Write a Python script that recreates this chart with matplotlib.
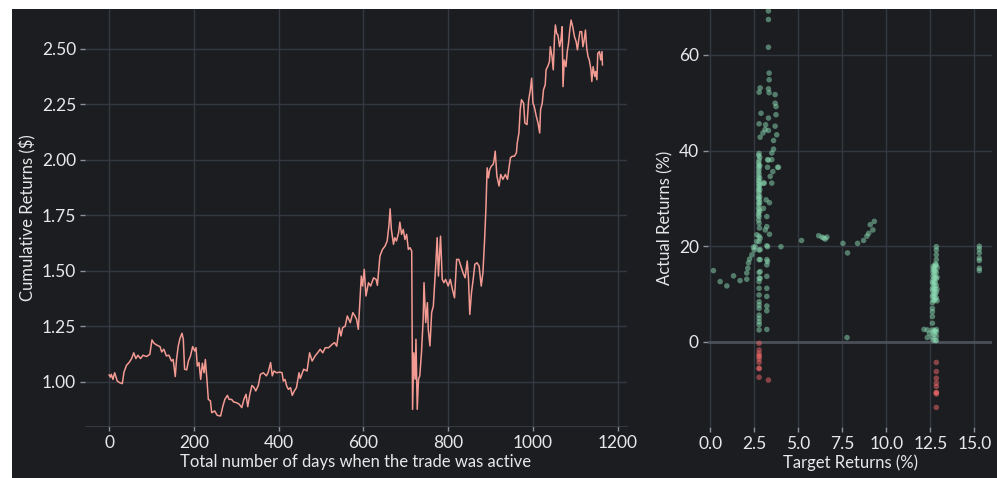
import matplotlib.pyplot as plt
from matplotlib.patches import Rectangle

# cumulative returns (day, value)
days = [0, 3, 5, 9, 13, 19, 25, 31, 35, 41, 47, 53, 58, 63, 68, 74, 80, 88, 96, 101,
        106, 113, 120, 124, 129, 135, 141, 147, 151, 156, 159, 163, 167, 172, 175, 178, 183, 187, 192, 197,
        202, 205, 208, 212, 216, 220, 224, 227, 231, 234, 239, 242, 249, 255, 263, 268, 273, 279, 283, 289,
        294, 301, 307, 313, 318, 323, 327, 332, 337, 342, 346, 352, 357, 364, 371, 375, 381, 385, 389, 395,
        403, 408, 411, 415, 419, 423, 428, 432, 437, 442, 448, 451, 459, 467, 473, 479, 486, 492, 498, 504,
        510, 518, 526, 532, 537, 543, 547, 551, 557, 562, 569, 575, 580, 584, 588, 591, 595, 598, 602, 606,
        612, 617, 624, 630, 633, 639, 645, 651, 656, 660, 663, 666, 671, 674, 678, 683, 686, 690, 694, 698,
        702, 706, 710, 714, 716, 719, 722, 724, 727, 730, 733, 737, 741, 743, 747, 751, 753, 757, 761, 765,
        768, 771, 774, 777, 782, 786, 790, 794, 800, 805, 810, 815, 820, 825, 831, 835, 840, 845, 848, 851,
        855, 859, 863, 868, 873, 878, 882, 886, 889, 892, 895, 898, 902, 906, 908, 911, 915, 920, 924, 929,
        935, 940, 943, 947, 951, 956, 961, 963, 967, 970, 973, 978, 981, 986, 990, 994, 997, 1000, 1003, 1008,
        1012, 1016, 1018, 1022, 1025, 1029, 1031, 1035, 1039, 1041, 1045, 1048, 1051, 1053, 1056, 1059, 1063, 1066, 1069, 1071,
        1074, 1078, 1081, 1084, 1087, 1090, 1094, 1098, 1102, 1105, 1108, 1111, 1115, 1118, 1121, 1124, 1127, 1130, 1133, 1137,
        1139, 1142, 1146, 1148, 1151, 1153, 1157, 1160, 1163, 1164]
cum_returns = [1.03, 1.02, 1.033, 1.01, 1.04, 1.003, 0.995, 0.991, 1.043, 1.074, 1.086, 1.104, 1.13, 1.104, 1.119, 1.104, 1.119, 1.113, 1.123, 1.188,
               1.173, 1.164, 1.158, 1.134, 1.146, 1.116, 1.119, 1.093, 1.10, 1.023, 1.10, 1.16, 1.194, 1.218, 1.19, 1.056, 1.053, 1.093, 1.116, 1.158,
               1.138, 1.153, 1.07, 1.086, 1.01, 1.083, 1.04, 1.10, 1.003, 0.92, 0.913, 0.86, 0.868, 0.848, 0.845, 0.887, 0.92, 0.938, 0.92, 0.92,
               0.908, 0.905, 0.898, 0.883, 0.92, 0.943, 0.887, 0.943, 0.983, 0.973, 0.958, 0.983, 1.033, 1.04, 1.026, 1.04, 1.086, 1.026, 1.048, 1.04,
               1.043, 1.04, 1.003, 1.01, 0.98, 0.965, 0.973, 0.938, 0.958, 0.973, 1.04, 1.014, 1.056, 1.048, 1.13, 1.093, 1.116, 1.13, 1.146, 1.13,
               1.153, 1.153, 1.168, 1.176, 1.16, 1.243, 1.206, 1.243, 1.25, 1.296, 1.266, 1.311, 1.296, 1.28, 1.236, 1.341, 1.476, 1.431, 1.506, 1.386,
               1.446, 1.431, 1.468, 1.461, 1.434, 1.566, 1.596, 1.611, 1.634, 1.70, 1.779, 1.686, 1.619, 1.649, 1.634, 1.671, 1.719, 1.664, 1.686, 1.641,
               1.664, 1.596, 1.604, 1.589, 0.875, 1.13, 1.011, 1.191, 0.875, 1.011, 1.026, 1.13, 1.281, 1.446, 1.266, 1.356, 1.236, 1.161, 1.311, 1.341,
               1.438, 1.536, 1.649, 1.476, 1.656, 1.461, 1.446, 1.461, 1.431, 1.461, 1.416, 1.378, 1.551, 1.551, 1.514, 1.491, 1.468, 1.544, 1.461, 1.303,
               1.401, 1.461, 1.529, 1.536, 1.521, 1.431, 1.491, 1.641, 1.777, 1.964, 1.919, 1.957, 1.972, 1.979, 1.994, 2.039, 1.927, 1.882, 1.934, 1.912,
               1.934, 1.912, 1.957, 2.009, 2.016, 2.016, 2.031, 2.076, 2.121, 2.226, 2.271, 2.256, 2.166, 2.159, 2.271, 2.316, 2.368, 2.256, 2.241, 2.196,
               2.166, 2.121, 2.226, 2.256, 2.316, 2.338, 2.406, 2.421, 2.443, 2.51, 2.466, 2.406, 2.555, 2.608, 2.57, 2.563, 2.51, 2.54, 2.60, 2.33,
               2.45, 2.42, 2.488, 2.525, 2.585, 2.63, 2.60, 2.555, 2.533, 2.496, 2.54, 2.578, 2.578, 2.51, 2.54, 2.585, 2.503, 2.466, 2.45, 2.406,
               2.353, 2.42, 2.376, 2.398, 2.361, 2.48, 2.488, 2.45, 2.488, 2.428]

# target vs actual returns (%) per trade
target_ret = [0.19, 0.57, 0.95, 1.33, 1.7, 2.08, 2.08, 2.14, 2.18, 2.24, 2.37, 2.46, 2.5, 2.56, 2.65, 2.65,
              2.78, 2.78, 2.78, 2.78, 2.78, 2.78, 2.78, 2.78, 2.78, 2.78, 2.78, 2.78, 2.78, 2.78, 2.78, 2.78,
              2.78, 2.78, 2.78, 2.78, 2.78, 2.78, 2.78, 2.78, 2.78, 2.78, 2.78, 2.78, 2.78, 2.78, 2.78, 2.78,
              2.75, 2.75, 2.75, 2.75, 2.75, 2.75, 2.75, 2.75, 2.75, 2.75, 2.75, 2.75, 2.75, 2.75, 2.75, 2.75,
              2.82, 2.82, 2.82, 2.82, 2.82, 2.82, 2.82, 2.82, 2.84, 2.84, 2.84, 2.84, 2.84, 2.84, 2.84, 2.89,
              2.8, 3.0, 3.03, 3.03, 3.07, 3.12, 3.13, 3.15, 3.18, 3.22, 3.22, 3.22, 3.22, 3.22, 3.22, 3.22,
              3.22, 3.22, 3.22, 3.22, 3.26, 3.26, 3.26, 3.26, 3.31, 3.31, 3.31, 3.31, 3.31, 3.31, 3.31, 3.35,
              3.35, 3.35, 3.37, 3.37, 3.41, 3.5, 3.5, 3.5, 3.56, 3.6, 3.6, 3.69, 3.69, 3.69, 3.74, 3.74,
              3.78, 3.83, 3.88, 4.02, 5.19, 6.16, 6.35, 6.45, 6.54, 6.63, 7.54, 7.8, 7.77, 8.37, 8.71, 8.9,
              9.0, 9.09, 9.24, 9.32,
              12.14, 12.33, 12.33, 12.45, 12.62, 12.62, 12.62, 12.62, 12.62, 12.62, 12.62, 12.62, 12.62, 12.62,
              12.66, 12.66, 12.66, 12.66, 12.66, 12.66, 12.66, 12.66, 12.66, 12.66, 12.66, 12.66,
              12.72, 12.72, 12.72, 12.72, 12.72, 12.72, 12.72, 12.72, 12.72, 12.72, 12.72, 12.72,
              12.78, 12.78, 12.78, 12.78, 12.78, 12.78, 12.78, 12.78, 12.78, 12.78,
              12.84, 12.84, 12.84, 12.84, 12.84, 12.84, 12.84, 12.84, 12.84, 12.84, 12.84, 12.84, 12.84, 12.84,
              12.88, 12.88, 12.88, 12.88,
              15.28, 15.28, 15.28, 15.28, 15.28, 15.28, 15.28,
              2.78, 2.78, 2.78, 2.78, 2.78, 2.78, 2.78, 2.78, 2.78, 2.78, 3.31,
              12.84, 12.84, 12.84, 12.84, 12.84, 12.84, 12.84, 12.84, 12.84]
actual_ret = [14.9, 12.6, 11.7, 13.8, 12.8, 13.1, 14.4, 15.4, 16.5, 17.3, 18.2, 19.8, 19.2, 19.9, 22.4, 21.0,
              39.4, 38.0, 37.0, 36.0, 35.0, 33.5, 32.5, 31.1, 29.7, 28.6, 27.6, 26.2, 24.8, 22.1, 21.0, 19.2,
              17.2, 14.5, 13.3, 12.6, 11.2, 9.8, 8.4, 7.7, 7.0, 5.6, 4.9, 4.2, 3.6, 2.5, 45.6, 52.2,
              39.0, 37.5, 36.5, 35.5, 34.5, 33.8, 33.0, 32.0, 31.5, 30.5, 30.0, 29.0, 28.0, 27.0, 26.5, 25.5,
              38.6, 36.8, 34.2, 32.8, 31.8, 30.3, 29.2, 27.3, 53.1, 42.8, 21.7, 17.2, 14.7, 13.3, 19.3, 47.8,
              23.8, 43.7, 33.2, 27.9, 33.2, 44.4, 23.4, 45.4, 29.7, 26.2, 24.1, 20.1, 17.2, 16.1, 13.7, 11.2,
              9.5, 7.5, 6.5, 2.6, 38.1, 36.5, 19.9, 16.8, 69.2, 67.4, 61.6, 52.9, 46.8, 44.2, 38.0, 56.2,
              54.8, 52.1, 29.1, 22.5, 34.6, 39.5, 38.1, 33.2, 35.6, 42.1, 40.3, 51.7, 49.9, 45.1, 49.2, 47.5,
              43.3, 36.5, 36.5, 19.9, 21.2, 22.2, 21.9, 21.7, 21.5, 21.9, 20.6, 18.6, 0.9, 20.6, 21.2, 22.1,
              22.7, 24.5, 23.4, 25.2,
              2.6, 2.5, 0.9, 1.8, 1.0, 2.5, 3.9, 5.3, 6.3, 7.0, 8.2, 9.5, 11.0, 12.5,
              8.8, 9.8, 10.6, 11.4, 12.2, 13.0, 13.8, 14.6, 15.2, 15.8, 2.0, 0.4,
              8.6, 9.4, 10.2, 11.0, 11.8, 12.6, 13.4, 14.2, 14.9, 15.6, 2.4, 1.5,
              9.0, 10.0, 11.2, 12.4, 13.6, 14.8, 15.9, 2.2, 0.3, 16.3,
              19.9, 19.2, 18.2, 17.2, 16.1, 14.5, 13.2, 11.8, 10.4, 9.2, 2.6, 2.1, 0.3, 1.2,
              8.6, 11.0, 13.5, 15.5,
              20.0, 19.4, 18.6, 17.5, 17.0, 15.4, 14.9,
              -0.3, -1.7, -2.4, -3.1, -3.6, -4.3, -5.5, -5.6, -7.4, -2.9, -8.0,
              -4.3, -6.2, -7.6, -8.6, -9.3, -10.6, -10.6, -10.9, -13.7]

bg = '#1b1d21'
grid_c = '#343941'
text_c = '#e8e8e8'
tick_c = '#8c929a'

plt.rcParams['font.family'] = ['Lato', 'DejaVu Sans']
plt.rcParams['text.color'] = text_c
plt.rcParams['axes.labelcolor'] = text_c
plt.rcParams['xtick.color'] = tick_c
plt.rcParams['ytick.color'] = tick_c
plt.rcParams['xtick.labelcolor'] = text_c
plt.rcParams['ytick.labelcolor'] = text_c

fig = plt.figure(figsize=(9.97, 4.78), dpi=100, facecolor='white')
# dark panel, the screenshot leaves a thin white strip at the top and left
fig.patches.append(Rectangle((12 / 997, 0), 985 / 997, 469 / 478, transform=fig.transFigure,
                             facecolor=bg, edgecolor='none', zorder=-10))

ax1 = fig.add_axes([85 / 997, 52 / 478, 542 / 997, 417 / 478])
ax2 = fig.add_axes([708 / 997, 51 / 478, 284 / 997, 418 / 478])


def style_axes(ax):
    ax.set_zorder(2)
    ax.set_facecolor(bg)
    ax.grid(True, color=grid_c, lw=1.0)
    ax.set_axisbelow(True)
    for s in ['top', 'right', 'left', 'bottom']:
        ax.spines[s].set_visible(False)
    ax.tick_params(length=3.5, width=1, pad=3, labelsize=12.5)


style_axes(ax1)
ax1.spines['bottom'].set_visible(True)
ax1.spines['bottom'].set_color(grid_c)
ax1.plot(days, cum_returns, color='#f39a92', lw=1.1)
ax1.set_xlim(-57, 1222)
ax1.set_ylim(0.80, 2.68)
ax1.set_xticks([0, 200, 400, 600, 800, 1000, 1200])
ax1.set_yticks([1.00, 1.25, 1.50, 1.75, 2.00, 2.25, 2.50])
ax1.set_yticklabels(['1.00', '1.25', '1.50', '1.75', '2.00', '2.25', '2.50'])
ax1.set_xlabel('Total number of days when the trade was active', fontsize=12, labelpad=2)
ax1.set_ylabel('Cumulative Returns ($)', fontsize=12, labelpad=4)

style_axes(ax2)
pos_x = [t for t, a in zip(target_ret, actual_ret) if a >= 0]
pos_y = [a for a in actual_ret if a >= 0]
neg_x = [t for t, a in zip(target_ret, actual_ret) if a < 0]
neg_y = [a for a in actual_ret if a < 0]
ax2.axhline(0, color='#4a5058', lw=2, zorder=1)
ax2.scatter(pos_x, pos_y, s=16, color='#8cdcb4', alpha=0.5, edgecolors='none', zorder=2)
ax2.scatter(neg_x, neg_y, s=16, color='#f46a6a', alpha=0.5, edgecolors='none', zorder=2)
ax2.set_xlim(-0.12, 16.0)
ax2.set_ylim(-17.8, 69.6)
ax2.set_xticks([0, 2.5, 5, 7.5, 10, 12.5, 15])
ax2.set_xticklabels(['0.0', '2.5', '5.0', '7.5', '10.0', '12.5', '15.0'])
ax2.set_yticks([0, 20, 40, 60])
ax2.set_xlabel('Target Returns (%)', fontsize=12, labelpad=2)
ax2.set_ylabel('Actual Returns (%)', fontsize=12, labelpad=4)

fig.savefig('out.png', dpi=100, facecolor='white')
